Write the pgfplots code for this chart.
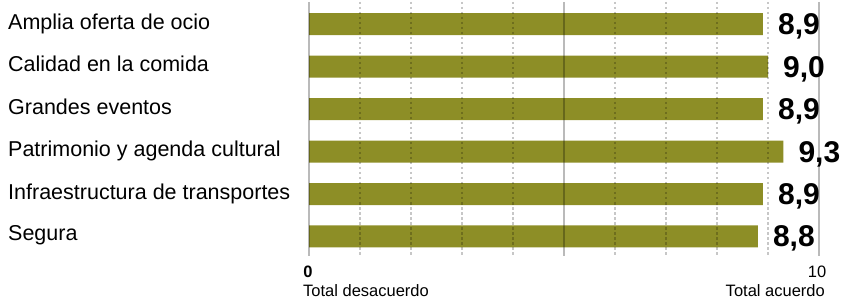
\documentclass[border=0pt]{standalone}
\usepackage{pgfplots}
\pgfplotsset{compat=1.18}
\usepackage{fontspec}
\setmainfont{Liberation Sans}
\definecolor{barc}{RGB}{141,142,38}
\begin{document}
\begin{tikzpicture}[x=1bp,y=1bp]
\useasboundingbox (0,0) rectangle (844,300);
\begin{axis}[at={(309bp,44bp)}, anchor=south west, scale only axis,
  width=510bp, height=254bp, xmin=0, xmax=10, ymin=-0.518, ymax=5.459,
  y dir=reverse, axis lines=none, xbar, bar width=22bp, ytick=\empty, xtick=\empty,
  clip=false, point meta=explicit symbolic, nodes near coords,
  nodes near coords style={anchor=base west, xshift=15bp, yshift=-10.5bp,
    font=\fontsize{30bp}{30bp}\selectfont\bfseries, text=black, inner sep=0pt}]
\addplot[fill=barc, draw=none] table[x=x, y=y, meta=lab] {
x y lab
8.9 0 8,9
9.0 1 9,0
8.9 2 8,9
9.3 3 9,3
8.9 4 8,9
8.8 5 8,8
};
\pgfplotsinvokeforeach{1,2,3,4,6,7,8,9}{
  \draw[black, opacity=0.22, line width=1.1bp, dash pattern=on 2.5bp off 2.5bp] (axis cs:#1,-0.518) -- (axis cs:#1,5.459);
}
\pgfplotsinvokeforeach{0,5,10}{
  \draw[black, opacity=0.27, line width=1.5bp] (axis cs:#1,-0.518) -- (axis cs:#1,5.459);
}
\end{axis}
\begin{scope}[every node/.style={inner sep=0pt, font=\fontsize{21.5bp}{24bp}\selectfont}]
\node[anchor=base west] at (8,271) {Amplia oferta de ocio};
\node[anchor=base west] at (8,228.5) {Calidad en la comida};
\node[anchor=base west] at (8,186) {Grandes eventos};
\node[anchor=base west] at (8,143.5) {Patrimonio y agenda cultural};
\node[anchor=base west] at (8,101) {Infraestructura de transportes};
\node[anchor=base west] at (8,59.5) {Segura};
\end{scope}
\begin{scope}[every node/.style={inner sep=0pt, font=\fontsize{16.5bp}{18bp}\selectfont}]
\node[anchor=base, font=\fontsize{16.5bp}{18bp}\selectfont\bfseries] at (308,23) {0};
\node[anchor=base] at (817,23) {10};
\node[anchor=base west] at (303,4) {Total desacuerdo};
\node[anchor=base east] at (825,4) {Total acuerdo};
\end{scope}
\end{tikzpicture}
\end{document}
